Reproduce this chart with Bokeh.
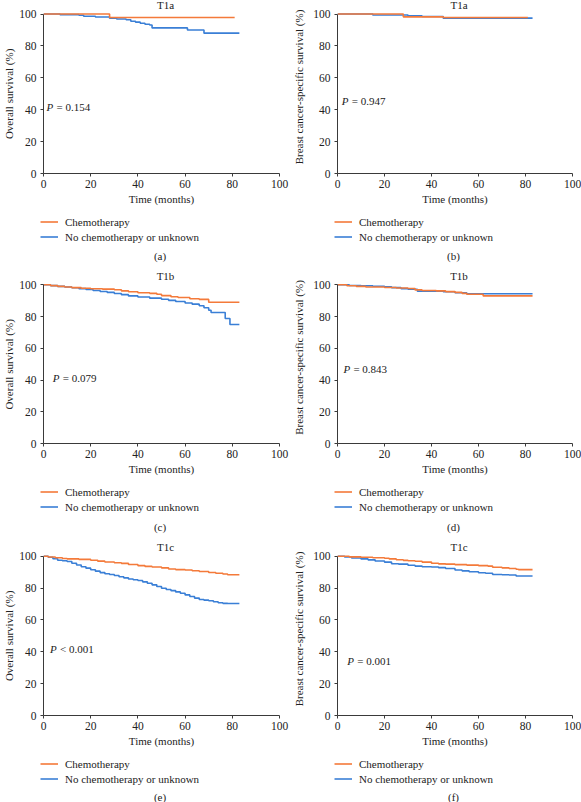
from bokeh.plotting import figure
from bokeh.layouts import column, row
from bokeh.models import Range1d, Label, Legend, LegendItem, FixedTicker, Spacer
from bokeh.embed import file_html
from bokeh.resources import INLINE

# ---------------- data ----------------
time_ticks = [0, 20, 40, 60, 80, 100]
surv_ticks = [0, 20, 40, 60, 80, 100]
legend_labels = ["Chemotherapy", "No chemotherapy or unknown"]

# (a) OS, T1a
a_chemo_t = [0, 28, 81]
a_chemo_s = [100, 97.8, 97.8]
a_none_t = [0, 7, 15, 17, 22, 28, 31, 35, 37, 39, 41, 43, 45, 46, 61, 68, 83]
a_none_s = [100, 99.6, 99.2, 98.6, 98.1, 97.4, 96.9, 96.4, 95.5, 94.9, 94.2, 93.6, 93.1, 91.3, 90.0, 88.0, 88.0]

# (b) BCSS, T1a
b_chemo_t = [0, 28, 45, 81]
b_chemo_s = [100, 98.2, 97.8, 97.8]
b_none_t = [0, 15, 30, 36, 45, 83]
b_none_s = [100, 99.4, 98.8, 98.4, 97.4, 97.4]

# (c) OS, T1b
c_chemo_t = [0, 3, 6, 9, 12, 16, 20, 25, 30, 33, 36, 40, 45, 48, 50, 54, 57, 62, 66, 70, 83]
c_chemo_s = [100, 99.5, 99.0, 98.6, 98.2, 97.8, 97.5, 97.3, 96.9, 96.2, 95.6, 95.0, 94.6, 94.0, 93.2, 92.5, 92.0, 91.2, 90.8, 89.0, 89.0]
c_none_t = [0, 3, 6, 9, 12, 15, 18, 21, 24, 27, 30, 33, 36, 40, 45, 50, 53, 56, 60, 63, 66, 68, 70, 71, 77, 79, 83]
c_none_s = [100, 99.5, 99.0, 98.6, 98.1, 97.6, 97.0, 96.4, 95.8, 95.2, 94.5, 93.8, 93.0, 92.3, 91.6, 90.9, 90.2, 89.5, 88.5, 87.8, 86.8, 85.5, 84.0, 82.5, 78.8, 75.0, 75.0]

# (d) BCSS, T1b
d_chemo_t = [0, 4, 8, 12, 20, 25, 30, 33, 36, 42, 46, 50, 53, 55, 62, 83]
d_chemo_s = [100, 99.4, 99.0, 98.6, 98.3, 98.0, 97.7, 96.8, 96.4, 96.2, 95.7, 95.2, 94.6, 94.0, 93.0, 93.0]
d_none_t = [0, 5, 10, 15, 20, 23, 27, 30, 34, 40, 45, 50, 55, 83]
d_none_s = [100, 99.6, 99.4, 99.1, 98.7, 98.2, 97.6, 97.2, 96.0, 95.9, 95.6, 95.0, 94.4, 94.4]

# (e) OS, T1c
e_chemo_t = [0, 2, 5, 8, 10, 15, 20, 23, 26, 30, 33, 36, 40, 43, 46, 50, 53, 56, 60, 63, 66, 70, 73, 76, 78, 83]
e_chemo_s = [100, 99.5, 99.0, 98.6, 98.3, 98.0, 97.5, 96.9, 96.4, 95.9, 95.5, 94.8, 94.1, 93.6, 93.2, 92.7, 92.0, 91.6, 91.3, 90.9, 90.4, 89.8, 89.3, 88.8, 88.4, 88.4]
e_none_t = [0, 2, 4, 6, 8, 10, 12, 14, 16, 18, 20, 22, 24, 26, 28, 30, 32, 34, 36, 38, 40,
            42, 44, 46, 48, 50, 52, 54, 56, 58, 60, 62, 64, 66, 68, 70, 72, 74, 76, 78, 83]
e_none_s = [100, 99.3, 98.4, 97.5, 97.1, 96.7, 95.6, 94.5, 93.4, 92.5, 91.5, 90.6, 89.7, 89.0, 88.5, 87.9, 87.1, 86.4, 85.7, 85.2, 84.7,
            83.9, 83.0, 82.0, 81.0, 79.9, 79.1, 78.4, 77.6, 76.7, 75.7, 74.7, 73.7, 72.8, 72.4, 72.0, 71.4, 70.8, 70.4, 70.3, 70.3]

# (f) BCSS, T1c
f_chemo_t = [0, 5, 10, 15, 20, 22, 25, 28, 30, 33, 36, 40, 43, 46, 50, 55, 60, 64, 66, 70, 73, 76, 77, 83]
f_chemo_s = [100, 99.6, 99.3, 99.0, 98.7, 98.3, 97.8, 97.4, 97.1, 96.8, 96.3, 95.6, 95.2, 95.0, 94.7, 94.4, 94.1, 93.8, 93.1, 92.7, 92.3, 91.8, 91.6, 91.6]
f_none_t = [0, 3, 6, 10, 13, 16, 20, 23, 26, 30, 33, 36, 40, 43, 46, 50, 53, 56, 60, 63, 66, 70, 73, 76, 83]
f_none_s = [100, 99.5, 98.9, 98.3, 97.7, 97.0, 96.3, 95.3, 95.0, 94.3, 93.8, 93.4, 93.2, 92.8, 92.3, 91.3, 90.8, 90.2, 89.6, 89.3, 88.5, 88.4, 88.2, 87.6, 87.6]

titles = ["T1a", "T1a", "T1b", "T1b", "T1c", "T1c"]
ylabels = ["Overall survival (%)", "Breast cancer-specific survival (%)"] * 3
tags = ["(a)", "(b)", "(c)", "(d)", "(e)", "(f)"]
p_texts = ["= 0.154", "= 0.947", "= 0.079", "= 0.843", "< 0.001", "= 0.001"]
p_pos = [(1.3, 42), (1.8, 45.6), (3.9, 41.3), (2.5, 47), (2.8, 41.8), (4.2, 33.9)]

# ---------------- styling / geometry ----------------
FONT = "Liberation Serif"
ORANGE = "#f47a3a"
BLUE = "#3a7fd6"
AXIS = "#3a3a3a"
TEXT = "#222222"

BOTTOM = 36
# rows: (frame height incl. head room, px of head room above 100 %, footer height, tag y from footer top)
ROWS = [(173, 13.5, 62, 46.5), (172, 13.3, 63, 47), (173, 13.7, 51, 45)]
# columns: (figure width, left border, frame width, y-label standoff, trailing pad to centre label on 0-100)
COLS = [(290, 40, 239, 1, "\u00a0" * 5), (291, 44, 238, 5, "")]


def panel(i, chemo_t, chemo_s, none_t, none_s):
    w, left, fw, lab_stand, pad = COLS[i % 2]
    fh, head, foot_h, tag_y = ROWS[i // 2]
    ymax = 100.0 * fh / (fh - head)
    p = figure(width=w, height=fh + BOTTOM,
               x_range=Range1d(0, 100), y_range=Range1d(0, ymax),
               min_border_left=left, min_border_right=w - left - fw,
               min_border_top=0, min_border_bottom=BOTTOM,
               x_axis_label="Time (months)", y_axis_label=ylabels[i] + pad,
               output_backend="svg", toolbar_location=None)
    p.xgrid.visible = False
    p.ygrid.visible = False
    p.outline_line_color = None
    for ax, ticks in ((p.xaxis, time_ticks), (p.yaxis, surv_ticks)):
        ax.ticker = FixedTicker(ticks=ticks)
        ax.bounds = (0, 100)
        ax.axis_line_color = AXIS
        ax.axis_line_width = 1
        ax.major_tick_line_color = AXIS
        ax.major_tick_out = 3
        ax.major_tick_in = 0
        ax.minor_tick_line_color = None
        ax.major_label_text_font = FONT
        ax.major_label_text_font_size = "11.5px"
        ax.major_label_text_color = TEXT
        ax.axis_label_text_font = FONT
        ax.axis_label_text_font_size = "11px"
        ax.axis_label_text_font_style = "normal"
        ax.axis_label_text_color = TEXT
    p.xaxis.major_label_standoff = 3
    p.xaxis.axis_label_standoff = 2
    p.yaxis.major_label_standoff = 4
    p.yaxis.axis_label_standoff = lab_stand

    p.step(none_t, none_s, mode="after", line_color=BLUE, line_width=1.6)
    p.step(chemo_t, chemo_s, mode="after", line_color=ORANGE, line_width=1.6)

    # panel title, floated above the 100 % line
    p.add_layout(Label(x=50, y=100, x_offset=4, y_offset=9, text=titles[i], text_align="center",
                       text_baseline="middle", text_font=FONT, text_font_size="11px",
                       text_color=TEXT))
    px, py = p_pos[i]
    p.add_layout(Label(x=px, y=py, text="P", text_align="left", text_baseline="middle",
                       text_font=FONT, text_font_size="11px", text_font_style="italic",
                       text_color=TEXT))
    p.add_layout(Label(x=px, y=py, x_offset=10, text=p_texts[i], text_align="left",
                       text_baseline="middle", text_font=FONT, text_font_size="11px",
                       text_color=TEXT))

    # footer: legend + panel tag, in a pixel-scaled figure starting at the frame's left edge
    lw = w - left
    f = figure(width=lw, height=foot_h, x_range=Range1d(0, lw), y_range=Range1d(0, foot_h),
               x_axis_type=None, y_axis_type=None, output_backend="svg",
               toolbar_location=None, min_border=0)
    f.min_border_left = 0
    f.min_border_right = 0
    f.min_border_top = 0
    f.min_border_bottom = 0
    f.xgrid.visible = False
    f.ygrid.visible = False
    f.outline_line_color = None
    # legend swatches reuse the series (they fall outside this footer's 0..foot_h range)
    g_none = f.step(none_t, none_s, mode="after", line_color=BLUE, line_width=1.6)
    g_chemo = f.step(chemo_t, chemo_s, mode="after", line_color=ORANGE, line_width=1.6)
    legend = Legend(items=[LegendItem(label=legend_labels[0], renderers=[g_chemo]),
                           LegendItem(label=legend_labels[1], renderers=[g_none])],
                    location=(0, foot_h - 35), orientation="vertical",
                    padding=0, margin=0, spacing=0,
                    glyph_width=18, glyph_height=15, label_height=15, label_standoff=7,
                    label_text_font=FONT, label_text_font_size="11px", label_text_color=TEXT,
                    border_line_alpha=0, background_fill_alpha=0)
    f.add_layout(legend)
    f.add_layout(Label(x=fw / 2, y=foot_h - tag_y, text=tags[i], text_align="center",
                       text_baseline="middle", text_font=FONT, text_font_size="11px",
                       text_color=TEXT))
    foot = row(Spacer(width=left, height=foot_h), f, spacing=0)
    return column(p, foot, spacing=0)


pa = panel(0, a_chemo_t, a_chemo_s, a_none_t, a_none_s)
pb = panel(1, b_chemo_t, b_chemo_s, b_none_t, b_none_s)
pc = panel(2, c_chemo_t, c_chemo_s, c_none_t, c_none_s)
pd = panel(3, d_chemo_t, d_chemo_s, d_none_t, d_none_s)
pe = panel(4, e_chemo_t, e_chemo_s, e_none_t, e_none_s)
pf = panel(5, f_chemo_t, f_chemo_s, f_none_t, f_none_s)

layout = column(row(pa, pb, spacing=0), row(pc, pd, spacing=0), row(pe, pf, spacing=0), spacing=0)

open("out.html", "w").write(file_html(layout, INLINE))
